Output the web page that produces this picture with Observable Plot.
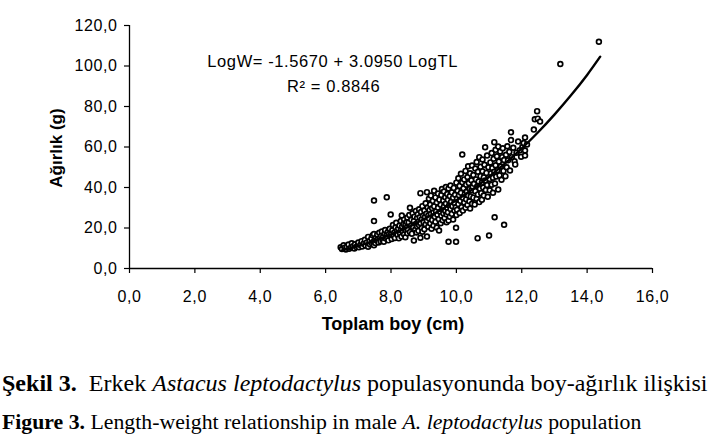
<!DOCTYPE html>
<html>
<head>
<meta charset="utf-8">
<script src="https://cdn.jsdelivr.net/npm/d3@7"></script>
<script src="https://cdn.jsdelivr.net/npm/@observablehq/plot@0.6"></script>
<style>
  html, body { margin: 0; padding: 0; background: #fff; }
  #wrap { position: relative; width: 717px; height: 443px; overflow: hidden; }
  .cap { position: absolute; left: 2px; font-family: "Liberation Serif", "Times New Roman", serif; color: #000; white-space: nowrap; line-height: 1; transform-origin: 0 50%; }
  #cap1 { top: 373px; font-size: 22.5px; transform: scaleX(1.068); }
  #cap2 { top: 412px; font-size: 20.5px; transform: scaleX(1.062); }
</style>
</head>
<body>
<div id="wrap">
  <div id="chart"></div>
  <div class="cap" id="cap1"><b>Şekil 3.</b>&nbsp; Erkek <i>Astacus leptodactylus</i> populasyonunda boy-ağırlık ilişkisi</div>
  <div class="cap" id="cap2"><b>Figure 3.</b> Length-weight relationship in male <i>A. leptodactylus</i> population</div>
</div>
<script>
// Tick values
const xTicks = [0, 2, 4, 6, 8, 10, 12, 14, 16];
const yTicks = [0, 20, 40, 60, 80, 100, 120];

// Fitted curve (TL cm, W g)
const fitTL = [6.5, 7, 7.5, 8, 8.5, 9, 9.5, 10, 10.5, 11, 11.5, 12, 12.5, 13, 13.5, 14, 14.4];
const fitW  = [8.9, 11.2, 13.8, 16.9, 20.3, 24.3, 28.7, 33.7, 39.1, 45.3, 52.0, 59.3, 67.3, 76.0, 85.4, 95.6, 104.6];

const males = [
  [6.46,10.5],[6.5,9.6],[6.55,11.5],[6.58,10.2],[6.62,9.4],[6.65,10.8],[6.7,11.8],[6.72,9.8],[6.78,10.4],[6.8,12.5],[6.84,11.0],[6.88,9.9],[6.9,12.0],[6.94,10.6],[6.98,11.4],
  [7.0,12.8],[7.02,10.5],[7.06,11.6],[7.1,13.5],[7.12,10.9],[7.16,12.2],[7.2,14.2],[7.22,11.3],[7.26,12.9],[7.3,15.6],[7.3,10.8],[7.34,13.4],[7.36,11.9],[7.4,14.8],[7.42,12.4],[7.44,16.4],[7.46,13.1],[7.48,11.5],[7.48,17.0],[7.5,14.0],
  [7.52,12.6],[7.54,15.2],[7.56,13.8],[7.58,16.8],[7.6,14.4],[7.62,12.9],[7.64,17.6],[7.66,15.0],[7.68,13.5],[7.7,16.2],[7.72,18.3],[7.74,14.1],[7.76,15.7],[7.78,13.2],[7.8,17.2],[7.82,19.0],[7.84,14.8],[7.86,16.5],[7.88,15.3],[7.9,18.0],[7.92,13.9],[7.94,17.0],[7.96,19.6],[7.98,15.9],[8.0,16.8],
  [8.02,14.6],[8.04,18.9],[8.06,21.5],[8.08,16.2],[8.1,17.8],[8.12,15.1],[8.14,20.4],[8.16,22.6],[8.18,18.4],[8.2,16.6],[8.22,19.7],[8.24,14.9],[8.26,21.2],[8.28,17.3],[8.3,23.4],[8.3,19.0],[8.32,15.8],[8.34,20.8],[8.36,18.1],[8.38,22.0],[8.4,16.9],[8.4,24.5],[8.42,19.5],[8.44,21.7],[8.44,15.4],[8.46,18.6],[8.48,23.0],[8.48,20.1],[8.5,17.4],[8.5,25.2],
  [8.52,19.3],[8.54,22.8],[8.56,26.4],[8.58,18.0],[8.58,30.0],[8.6,21.0],[8.62,24.1],[8.64,17.2],[8.66,27.3],[8.68,20.2],[8.7,23.5],[8.7,13.8],[8.72,25.6],[8.74,19.1],[8.76,28.4],[8.76,22.0],[8.78,17.8],[8.8,24.9],[8.8,20.7],[8.82,26.8],[8.84,23.1],[8.84,18.6],[8.86,29.2],[8.86,21.4],[8.88,25.3],[8.9,15.2],[8.9,37.2],[8.9,22.5],[8.92,27.9],[8.94,20.0],[8.94,24.3],[8.96,30.8],[8.96,18.2],[8.98,26.0],[9.0,22.9],
  [9.02,28.6],[9.02,19.4],[9.04,25.4],[9.06,32.2],[9.06,21.8],[9.08,27.0],[9.1,37.7],[9.1,23.6],[9.1,15.8],[9.12,30.1],[9.14,20.6],[9.14,26.2],[9.16,34.5],[9.16,24.8],[9.18,28.9],[9.2,22.3],[9.2,31.6],[9.22,36.0],[9.22,26.9],[9.24,19.6],[9.26,29.8],[9.26,24.0],[9.28,33.4],[9.3,27.6],[9.3,21.2],[9.32,38.4],[9.32,30.7],[9.34,25.5],[9.36,35.1],[9.36,23.1],[9.38,28.2],[9.4,32.6],[9.4,20.2],[9.42,26.6],[9.44,37.0],[9.44,30.0],[9.46,24.4],[9.47,18.8],[9.48,34.0],[9.5,28.0],
  [9.52,22.4],[9.52,31.5],[9.54,36.3],[9.54,26.1],[9.56,39.2],[9.58,29.3],[9.58,23.8],[9.6,33.6],[9.6,27.3],[9.62,38.0],[9.62,30.6],[9.64,25.0],[9.66,35.2],[9.66,28.4],[9.68,32.1],[9.68,40.2],[9.7,26.7],[9.7,22.9],[9.72,36.8],[9.72,30.0],[9.74,33.9],[9.74,27.8],[9.76,23.7],[9.76,39.5],[9.78,31.2],[9.8,35.8],[9.8,25.6],[9.82,29.4],[9.82,41.0],[9.84,33.0],[9.86,27.0],[9.86,37.6],[9.88,30.8],[9.9,35.0],[9.9,24.2],[9.92,39.8],[9.94,32.4],[9.94,28.6],[9.96,36.4],[9.98,30.2],[10.0,42.4],[10.0,26.4],
  [10.02,34.6],[10.02,29.0],[10.04,38.4],[10.06,31.8],[10.06,44.6],[10.08,36.2],[10.1,27.4],[10.1,40.8],[10.12,33.4],[10.14,46.8],[10.14,37.4],[10.16,30.4],[10.18,42.6],[10.18,56.3],[10.2,35.0],[10.2,28.6],[10.22,39.6],[10.24,44.0],[10.24,32.6],[10.26,36.8],[10.28,48.2],[10.28,30.0],[10.3,41.4],[10.3,34.2],[10.32,38.0],[10.34,45.2],[10.34,31.4],[10.36,50.5],[10.36,36.0],[10.38,42.2],[10.4,33.2],[10.4,39.2],[10.42,47.0],[10.42,29.6],[10.44,35.6],[10.46,43.6],[10.46,38.6],[10.48,32.0],[10.48,50.9],[10.5,40.4],
  [10.52,35.0],[10.52,46.2],[10.54,41.8],[10.56,31.6],[10.58,49.4],[10.58,38.2],[10.6,44.0],[10.62,34.4],[10.62,52.6],[10.64,40.6],[10.66,47.8],[10.66,36.6],[10.68,43.0],[10.7,55.0],[10.7,32.8],[10.72,39.4],[10.74,50.2],[10.74,45.6],[10.76,37.2],[10.78,42.4],[10.78,34.0],[10.8,53.8],[10.8,48.0],[10.82,40.0],[10.84,45.0],[10.84,36.0],[10.86,51.2],[10.88,59.9],[10.88,43.4],[10.9,38.8],[10.92,47.2],[10.94,55.8],[10.94,41.2],[10.96,35.4],[10.98,50.0],
  [11.02,44.2],[11.02,38.6],[11.04,52.4],[11.06,47.0],[11.08,41.4],[11.08,57.0],[11.1,49.6],[11.12,44.8],[11.12,37.4],[11.14,54.2],[11.16,62.4],[11.16,47.8],[11.18,42.0],[11.2,58.6],[11.2,51.0],[11.22,45.4],[11.24,55.4],[11.26,48.6],[11.28,39.0],[11.28,60.2],[11.3,52.8],[11.32,46.0],[11.34,57.8],[11.36,50.4],[11.38,43.8],[11.4,55.0],[11.42,59.4],[11.44,48.2],[11.46,53.6],[11.5,45.6],
  [11.52,56.2],[11.54,50.0],[11.56,60.4],[11.58,53.4],[11.62,57.6],[11.64,48.4],[11.67,63.4],[11.67,67.3],[11.7,55.0],[11.74,59.6],[11.78,53.0],[11.8,51.4],[11.84,57.2],[11.89,62.7],[11.94,58.4],[11.98,55.2],
  [12.02,60.0],[12.06,62.0],[12.1,64.7],[12.16,61.2],[12.1,58.3],[12.1,55.8],
  [12.37,68.6],[12.4,73.7],[12.47,77.7],[12.49,74.0],[12.56,72.6],
  [13.18,101.0],[14.36,112.0],
  [7.48,33.6],[7.87,35.2],[7.48,23.4],[7.99,26.7],[8.33,26.2],[9.76,13.2],[9.99,13.2],[9.99,20.1],[10.65,15.0],[11.0,16.3],[11.17,25.3],[11.46,21.6]
];

const equation = ["LogW= -1.5670 + 3.0950 LogTL", "R² = 0.8846"];

const fmt = d => d.toFixed(1).replace(".", ",");
const fit = fitTL.map((t, i) => ({tl: t, w: fitW[i]}));

const chart = Plot.plot({
  width: 717,
  height: 340,
  marginLeft: 129,
  marginRight: 65,
  marginTop: 25,
  marginBottom: 72,
  style: {fontFamily: "'Liberation Sans', Arial, sans-serif", fontSize: "16px", color: "#000", background: "#fff", overflow: "visible"},
  x: {domain: [0, 16]},
  y: {domain: [0, 120]},
  marks: [
    Plot.axisX({ticks: xTicks, tickFormat: fmt, tickSize: 5, tickPadding: 17, label: null, fontSize: 16, stroke: "#000", strokeWidth: 1.2}),
    Plot.axisY({ticks: yTicks, tickFormat: fmt, tickSize: 5, tickPadding: 7, label: null, fontSize: 16, stroke: "#000", strokeWidth: 1.2}),
    Plot.ruleY([0], {stroke: "#000", strokeWidth: 1.3}),
    Plot.ruleX([0], {y1: 0, y2: 120, stroke: "#000", strokeWidth: 1.3}),
    Plot.dot(males, {x: d => d[0], y: d => d[1], r: 2.4, stroke: "#000", fill: "#fff", strokeWidth: 1.7}),
    Plot.line(fit, {x: "tl", y: "w", stroke: "#000", strokeWidth: 2.4, curve: "natural"}),
    Plot.text([equation[0]], {x: 2.38, y: 102, text: d => d, textAnchor: "start", fontSize: 16.5, fill: "#000"}),
    Plot.text([equation[1]], {x: 4.82, y: 89.6, text: d => d, textAnchor: "start", fontSize: 16.5, fill: "#000"})
  ]
});

const svg = d3.select(chart);
svg.selectAll("text").style("letter-spacing", "0.6px");
svg.append("text")
  .attr("x", 393).attr("y", 330)
  .attr("text-anchor", "middle")
  .attr("font-weight", "bold").attr("font-size", 18)
  .attr("fill", "#000")
  .text("Toplam boy (cm)");
svg.append("text")
  .attr("transform", "translate(61.5,148) rotate(-90)")
  .attr("text-anchor", "middle")
  .attr("font-weight", "bold").attr("font-size", 17)
  .attr("fill", "#000")
  .text("Ağırlık (g)");

document.getElementById("chart").appendChild(chart);
</script>
</body>
</html>
